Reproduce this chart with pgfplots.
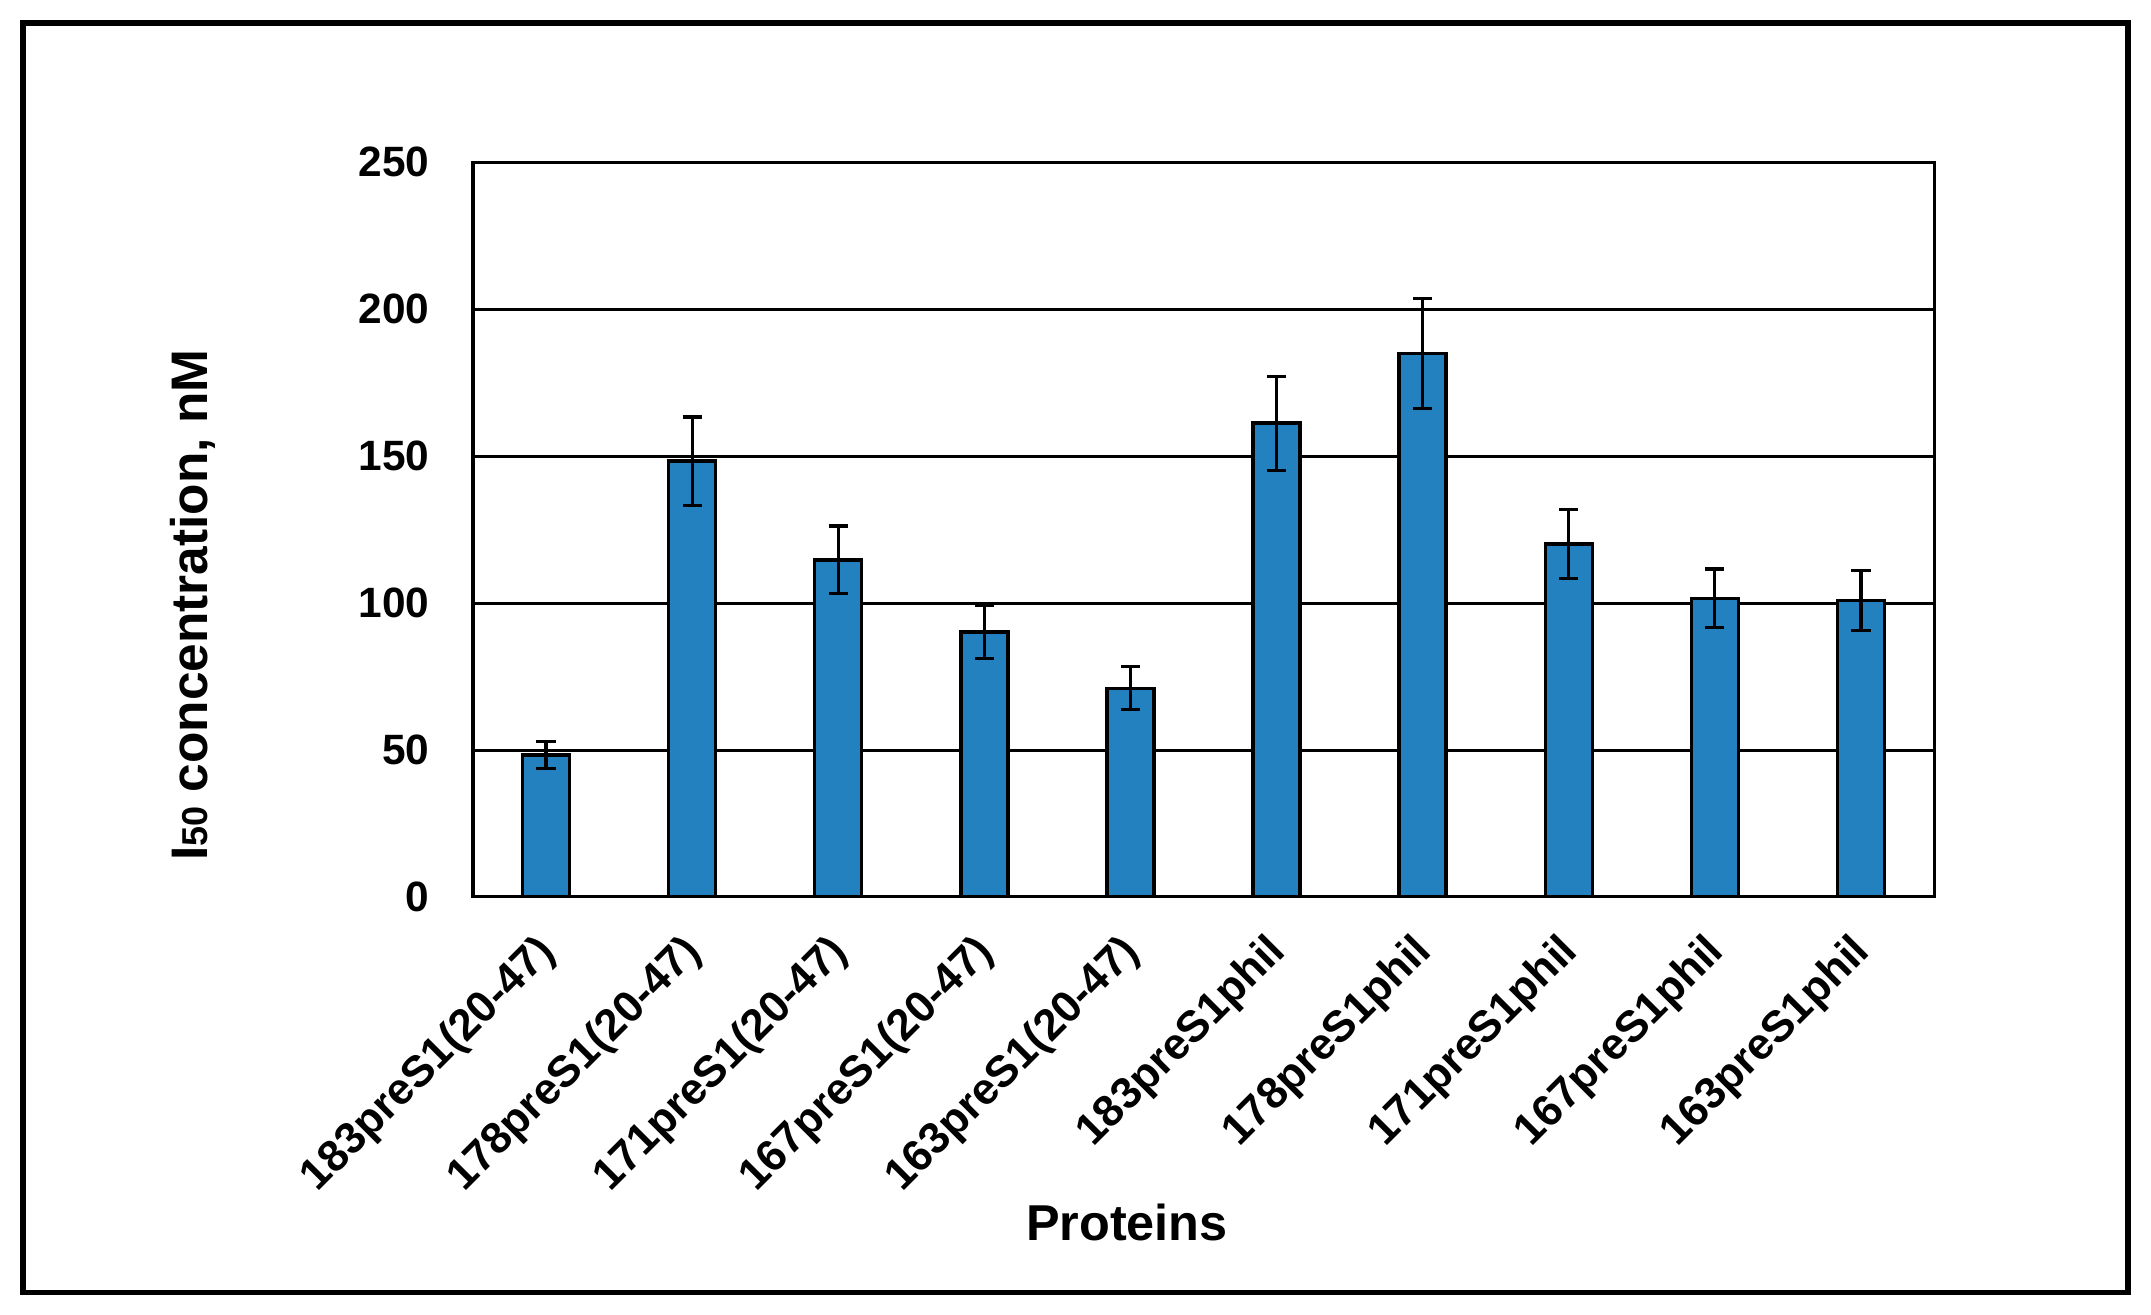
\documentclass[border=0pt]{standalone}
\usepackage{fontspec}
\setmainfont{Liberation Sans}
\usepackage{pgfplots}
\pgfplotsset{compat=1.18}
\definecolor{barblue}{RGB}{36,129,192}
\begin{document}
\begin{tikzpicture}
\path[use as bounding box] (0,0) rectangle (537.75pt,328.75pt);
\draw[line width=1.375pt] (5.75pt,5.625pt) rectangle (532pt,323pt);
\begin{axis}[
  at={(118.25pt,104.5pt)}, anchor=south west,
  scale only axis,
  width=365.25pt, height=183.7pt,
  xmin=-0.5, xmax=9.5, ymin=0, ymax=250,
  ytick={0,50,100,150,200,250},
  xtick={0,1,2,3,4,5,6,7,8,9},
  xticklabels={183preS1(20-47),178preS1(20-47),171preS1(20-47),167preS1(20-47),163preS1(20-47),183preS1phil,178preS1phil,171preS1phil,167preS1phil,163preS1phil},
  major tick length=0pt,
  axis line style={line width=0.75pt, black},
  ymajorgrids,
  grid style={line width=0.75pt, black},
  /pgf/number format/assume math mode=true,
  xticklabel style={xshift=-3pt, yshift=-8.25pt, rotate=45, anchor=north east, inner sep=0pt, font=\bfseries\fontsize{11}{13}\selectfont},
  yticklabel style={anchor=east, inner sep=0pt, xshift=-10.75pt, font=\bfseries\fontsize{10.6}{12}\selectfont},
  xlabel={Proteins},
  every axis x label/.style={at={(rel axis cs:0.4476,-0.468)}, anchor=base, font=\bfseries\fontsize{12.6}{15}\selectfont},
  ylabel={I{\fontsize{9}{10}\selectfont 50} concentration, nM},
  every axis y label/.style={at={(rel axis cs:-0.1814,0.397)}, anchor=base, rotate=90, font=\bfseries\fontsize{12.85}{15}\selectfont},
]
\addplot[ybar, bar width=11.75pt, fill=barblue, draw=black, line width=0.85pt,
  error bars/.cd, y dir=both, y explicit,
  error bar style={line width=0.8pt, black},
  error mark options={rotate=90, mark size=2.4pt, line width=0.8pt, black}]
coordinates {
  (0,48.3) +- (0,4.6)
  (1,148.3) +- (0,15.0)
  (2,114.7) +- (0,11.5)
  (3,90.2) +- (0,9.0)
  (4,71.0) +- (0,7.3)
  (5,161.2) +- (0,16.0)
  (6,184.9) +- (0,18.7)
  (7,120.1) +- (0,11.8)
  (8,101.6) +- (0,10.0)
  (9,100.9) +- (0,10.3)
};
\end{axis}
\end{tikzpicture}
\end{document}
